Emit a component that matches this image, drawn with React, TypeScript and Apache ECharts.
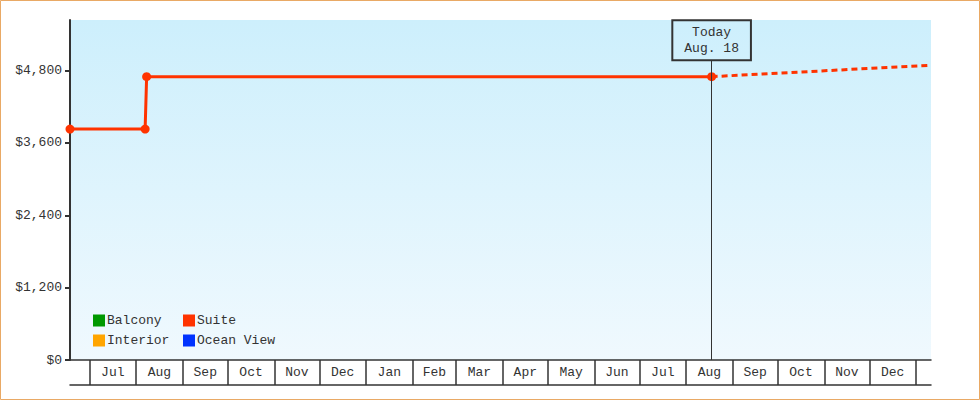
import React, { useEffect, useRef } from 'react';
import * as echarts from 'echarts';

const FONT = 'Liberation Mono';

// cabin types shown in the legend
const cabinNames = ['Balcony', 'Suite', 'Interior', 'Ocean View'];
const cabinColors = ['#009900', '#ff3300', '#ffa500', '#0033ff'];

// Suite price history (solid) and projection (dotted)
const suiteDates = ['2023-06-18', '2023-08-07', '2023-08-08', '2024-08-18'];
const suitePrices = [3830, 3830, 4700, 4700];
const forecastDates = ['2024-08-18', '2025-01-11'];
const forecastPrices = [4700, 4890];

const yTicks = [0, 1200, 2400, 3600, 4800];
const yMax = 5640;
const xStart = '2023-06-18';
const xEnd = '2025-01-11';
const todayDate = '2024-08-18';
const todayLabel = 'Today\nAug. 18';
const todayBoxBottom = 4972;

const monthNames = ['Jan', 'Feb', 'Mar', 'Apr', 'May', 'Jun', 'Jul', 'Aug', 'Sep', 'Oct', 'Nov', 'Dec'];

const ts = (s: string) => {
  const [y, m, d] = s.split('-').map(Number);
  return new Date(y, m - 1, d).getTime();
};

const App: React.FC = () => {
  const chartRef = useRef<HTMLDivElement>(null);

  useEffect(() => {
    const chart = echarts.init(chartRef.current!, undefined, { renderer: 'svg' });

    const minT = ts(xStart);
    const maxT = ts(xEnd);
    // month boundaries and month middles inside the range
    const starts: number[] = [];
    const mids: number[] = [];
    const s0 = new Date(minT);
    let y = s0.getFullYear();
    let m = s0.getMonth() + 1;
    while (true) {
      const a = new Date(y, m, 1).getTime();
      if (a > maxT) break;
      starts.push(a);
      const b = new Date(y, m + 1, 1).getTime();
      if (b <= maxT) mids.push((a + b) / 2);
      m++;
      if (m > 11) { m = 0; y++; }
    }

    const textBase = { fontFamily: FONT, fontSize: 13, color: '#333' };

    const legendPos = [
      { left: 93, top: 314 },
      { left: 183, top: 314 },
      { left: 93, top: 334 },
      { left: 183, top: 334 },
    ];

    const options = {
      animation: false,
      graphic: [
        {
          type: 'rect',
          shape: { x: 0.5, y: 0.5, width: 979, height: 399 },
          style: { fill: 'none', stroke: '#e9a965', lineWidth: 1 },
          silent: true,
        },
      ],
      grid: {
        left: 70,
        right: 49,
        top: 20,
        bottom: 40,
        show: true,
        borderWidth: 0,
        backgroundColor: new echarts.graphic.LinearGradient(0, 0, 0, 1, [
          { offset: 0, color: '#cdeffc' },
          { offset: 1, color: '#f0f9fe' },
        ]),
      },
      legend: cabinNames.map((n, i) => ({
        data: [n],
        left: legendPos[i].left,
        top: legendPos[i].top,
        padding: 0,
        itemWidth: 12,
        itemHeight: 12,
        icon: 'rect',
        selectedMode: false,
        textStyle: { ...textBase, padding: [0, 0, 0, -3] },
      })),
      xAxis: [
        {
          type: 'value',
          min: minT,
          max: maxT,
          position: 'bottom',
          axisLine: { show: true, lineStyle: { color: '#333', width: 1.5 } },
          axisTick: {
            show: true,
            customValues: starts,
            length: 25,
            lineStyle: { color: '#333', width: 1.5 },
          },
          axisLabel: {
            customValues: mids,
            margin: 6,
            ...textBase,
            formatter: (v: number) => monthNames[new Date(v).getMonth()],
          },
          splitLine: { show: false },
        },
        {
          type: 'value',
          min: minT,
          max: maxT,
          position: 'bottom',
          offset: 25,
          axisLine: { show: true, lineStyle: { color: '#333', width: 1.5 } },
          axisTick: { show: false },
          axisLabel: { show: false },
          splitLine: { show: false },
        },
      ],
      yAxis: {
        type: 'value',
        min: 0,
        max: yMax,
        axisLine: { show: true, lineStyle: { color: '#333', width: 2 } },
        axisTick: { show: true, customValues: yTicks, length: 5, lineStyle: { color: '#333', width: 2 } },
        axisLabel: {
          customValues: yTicks,
          margin: 8,
          ...textBase,
          formatter: (v: number) => '$' + v.toLocaleString('en-US'),
        },
        splitLine: { show: false },
      },
      series: [
        ...cabinNames
          .filter((n) => n !== 'Suite')
          .map((n) => ({
            name: n,
            type: 'line',
            data: [],
            color: cabinColors[cabinNames.indexOf(n)],
          })),
        {
          name: 'Suite',
          type: 'line',
          color: cabinColors[1],
          data: suiteDates.map((d, i) => [ts(d), suitePrices[i]]),
          symbol: 'circle',
          symbolSize: 9,
          lineStyle: { width: 3 },
          z: 3,
          markLine: {
            silent: true,
            symbol: ['none', 'none'],
            lineStyle: { color: '#333', width: 1, type: 'solid' },
            label: {
              show: true,
              position: 'end',
              distance: 0,
              formatter: todayLabel,
              ...textBase,
              lineHeight: 16,
              padding: [4, 12, 4, 12],
              borderColor: '#333',
              borderWidth: 1,
              backgroundColor: 'transparent',
            },
            data: [[{ coord: [ts(todayDate), 0] }, { coord: [ts(todayDate), todayBoxBottom] }]],
          },
        },
        {
          name: 'Suite forecast',
          type: 'line',
          color: cabinColors[1],
          data: forecastDates.map((d, i) => [ts(d), forecastPrices[i]]),
          showSymbol: false,
          lineStyle: { width: 3, type: [6, 4] },
          z: 2,
        },
      ],
    };

    chart.setOption(options);

    return () => {
      chart.dispose();
    };
  }, []);

  return (
    <div
      ref={chartRef}
      style={{ position: 'absolute', left: 0, top: 0, width: '980px', height: '400px', background: '#fff' }}
    ></div>
  );
};

export default App;
